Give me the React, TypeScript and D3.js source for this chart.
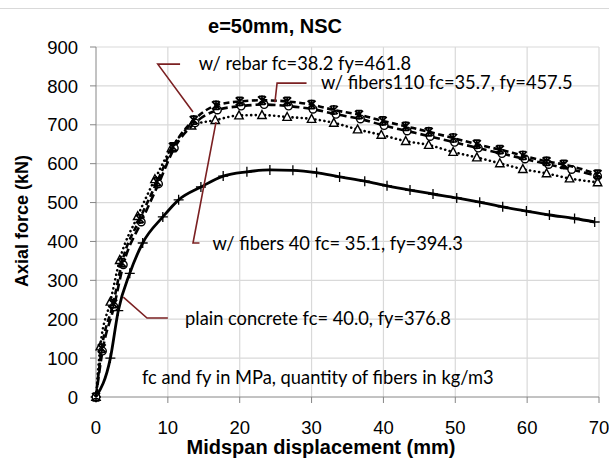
import React from "react";
import * as d3 from "d3";

// Midspan displacement (mm) vs axial force (kN), e = 50 mm, normal-strength concrete
const rebarX = [0, 0.8, 2.4, 3.6, 6.1, 8.5, 10.7, 13.6, 16.7, 20.0, 23.1, 26.6, 30.0, 33.1, 36.6, 39.9, 43.1, 46.3, 49.7, 53.0, 56.2, 59.4, 62.7, 65.1, 69.8];
const rebarY = [0, 125, 240, 345, 458, 553, 643, 712, 750, 760, 763, 760, 752, 738, 726, 710, 696, 682, 666, 650, 636, 621, 606, 598, 573];

const fib110X = [0, 0.9, 2.5, 3.8, 6.3, 8.7, 10.9, 13.8, 16.9, 20.2, 23.4, 26.8, 30.2, 33.4, 36.8, 40.1, 43.3, 46.5, 49.9, 53.2, 56.5, 59.7, 63.0, 66.2, 69.8];
const fib110Y = [0, 118, 232, 340, 450, 548, 640, 705, 738, 748, 752, 748, 740, 727, 715, 698, 684, 670, 655, 640, 626, 612, 598, 585, 568];

const fib40X = [0, 0.6, 2.0, 3.3, 5.8, 8.2, 10.5, 13.3, 16.6, 19.9, 23.1, 26.6, 30.0, 33.1, 36.4, 39.7, 43.1, 46.3, 49.7, 53.0, 56.2, 59.4, 62.7, 65.9, 69.8];
const fib40Y = [0, 130, 245, 352, 465, 560, 640, 698, 712, 724, 725, 720, 715, 705, 688, 674, 658, 648, 630, 616, 601, 586, 575, 562, 552];

const plainX = [0, 2.0, 3.1, 4.7, 6.5, 9.3, 11.5, 14.6, 17.7, 21.0, 24.2, 27.4, 30.7, 33.9, 37.4, 40.5, 43.7, 46.9, 50.2, 53.4, 56.6, 59.9, 63.1, 66.6, 69.4];
const plainY = [0, 100, 222, 318, 396, 463, 507, 540, 568, 579, 584, 583, 577, 566, 555, 543, 532, 522, 512, 501, 489, 478, 468, 459, 450];

const xTicks = [0, 10, 20, 30, 40, 50, 60, 70];
const yTicks = [0, 100, 200, 300, 400, 500, 600, 700, 800, 900];

const titleText = "e=50mm, NSC";
const xTitle = "Midspan displacement (mm)";
const yTitle = "Axial force (kN)";

// Callout labels: leader polyline in data units, label anchor in data units
const callouts = [
  { text: "w/ rebar fc=38.2 fy=461.8", pts: [[13.5, 733], [8.6, 856], [11.7, 856]], at: [14.3, 859] },
  { text: "w/ fibers110 fc=35.7, fy=457.5", pts: [[24.9, 758], [25.2, 807], [29.3, 807]], at: [31.3, 810] },
  { text: "w/ fibers 40 fc= 35.1, fy=394.3", pts: [[16.7, 707], [13.5, 396], [14.4, 396]], at: [16.2, 396] },
  { text: "plain concrete fc= 40.0, fy=376.8", pts: [[3.8, 257], [7.1, 203], [10.0, 203]], at: [12.4, 203] },
];
const noteText = "fc and fy in MPa, quantity of fibers in kg/m3";
const noteAt = [6.4, 50];

const W = 609;
const H = 459;

export default function App() {
  const x = d3.scaleLinear().domain([0, 70]).range([96, 599]);
  const y = d3.scaleLinear().domain([0, 900]).range([397, 47]);

  const line = d3
    .line<[number, number]>()
    .x((d) => x(d[0]))
    .y((d) => y(d[1]))
    .curve(d3.curveMonotoneX);

  const zip = (xs: number[], ys: number[]) => xs.map((v, i) => [v, ys[i]] as [number, number]);

  const series = [
    { key: "plain", data: zip(plainX, plainY), dash: undefined as string | undefined, cap: "butt", marker: "plus" },
    { key: "fib40", data: zip(fib40X, fib40Y), dash: "0.1 4.5", cap: "round", marker: "tri" },
    { key: "fib110", data: zip(fib110X, fib110Y), dash: "8 4", cap: "butt", marker: "circle" },
    { key: "rebar", data: zip(rebarX, rebarY), dash: "6 3.5", cap: "butt", marker: "star" },
  ];

  const marker = (kind: string, cx: number, cy: number, k: string) => {
    const s = 4;
    if (kind === "plus")
      return (
        <path
          key={k}
          d={`M${cx - 5},${cy}H${cx + 5}M${cx},${cy - 5}V${cy + 5}`}
          stroke="#000"
          strokeWidth={1.3}
          fill="none"
        />
      );
    if (kind === "circle") return <circle key={k} cx={cx} cy={cy} r={3.8} stroke="#000" strokeWidth={1.4} fill="#fff" />;
    if (kind === "tri")
      return (
        <path
          key={k}
          d={`M${cx},${cy - 4.5}L${cx + 4.2},${cy + 3.4}L${cx - 4.2},${cy + 3.4}Z`}
          stroke="#000"
          strokeWidth={1.4}
          fill="#fff"
        />
      );
    return (
      <path
        key={k}
        d={`M${cx - s},${cy - s}L${cx + s},${cy + s}M${cx - s},${cy + s}L${cx + s},${cy - s}M${cx},${cy - 5}V${cy + 5}M${cx - 3},${cy - s}H${cx + 3}M${cx - 3},${cy + s}H${cx + 3}`}
        stroke="#000"
        strokeWidth={1.7}
        fill="none"
      />
    );
  };

  const axisFont = "'Liberation Sans', Arial, sans-serif";
  const noteFont = "Lato, 'Open Sans', sans-serif";

  return (
    <svg width={W} height={H} style={{ position: "absolute", left: 0, top: 0, background: "#fff" }}>
      <rect x={0} y={0} width={W} height={H} fill="#fff" />
      <line x1={0} x2={W} y1={8.5} y2={8.5} stroke="#d9d9d9" strokeWidth={1} />

      {/* gridlines */}
      {xTicks.slice(1).map((t) => (
        <line key={"gx" + t} x1={x(t)} x2={x(t)} y1={y(900)} y2={y(0)} stroke="#d9d9d9" strokeWidth={1.2} />
      ))}
      {yTicks.slice(1).map((t) => (
        <line key={"gy" + t} x1={x(0)} x2={x(70)} y1={y(t)} y2={y(t)} stroke="#d9d9d9" strokeWidth={1.2} />
      ))}

      {/* axes */}
      <line x1={x(0)} x2={x(0)} y1={y(900)} y2={y(0)} stroke="#868686" strokeWidth={1} />
      <line x1={x(0)} x2={x(70)} y1={y(0)} y2={y(0)} stroke="#868686" strokeWidth={1} />
      {yTicks.map((t) => (
        <g key={"ty" + t}>
          <line x1={x(0) - 6} x2={x(0)} y1={y(t)} y2={y(t)} stroke="#868686" />
          <text x={78} y={y(t)} dy="0.36em" textAnchor="end" fontFamily={axisFont} fontSize={18.5} fill="#000">
            {t}
          </text>
        </g>
      ))}
      {xTicks.map((t) => (
        <g key={"tx" + t}>
          <line x1={x(t)} x2={x(t)} y1={y(0)} y2={y(0) + 6} stroke="#868686" />
          <text x={x(t)} y={434} textAnchor="middle" fontFamily={axisFont} fontSize={18.5} fill="#000">
            {t}
          </text>
        </g>
      ))}

      {/* titles */}
      <text x={275} y={33} textAnchor="middle" fontFamily={axisFont} fontWeight="bold" fontSize={20}>
        {titleText}
      </text>
      <text x={321} y={454} textAnchor="middle" fontFamily={axisFont} fontWeight="bold" fontSize={20}>
        {xTitle}
      </text>
      <text
        transform={`translate(22,221) rotate(-90)`}
        dy="0.36em"
        textAnchor="middle"
        fontFamily={axisFont}
        fontWeight="bold"
        fontSize={18}
      >
        {yTitle}
      </text>

      {/* series lines and markers */}
      {series.map((s) => (
        <g key={s.key}>
          <path
            d={line(s.data) || ""}
            fill="none"
            stroke="#000"
            strokeWidth={s.key === "plain" ? 2.8 : 2.6}
            strokeDasharray={s.dash}
            strokeLinecap={s.cap as any}
          />
          {s.data.map((d, i) => marker(s.marker, x(d[0]), y(d[1]), s.key + i))}
        </g>
      ))}

      {/* callouts */}
      {callouts.map((c) => (
        <g key={c.text}>
          <polyline
            points={c.pts.map((p) => `${x(p[0])},${y(p[1])}`).join(" ")}
            fill="none"
            stroke="#7b2022"
            strokeWidth={1.6}
          />
          <text x={x(c.at[0])} y={y(c.at[1])} dy="0.36em" fontFamily={noteFont} fontSize={18.3} fill="#000">
            {c.text}
          </text>
        </g>
      ))}
      <text x={x(noteAt[0])} y={y(noteAt[1])} dy="0.36em" fontFamily={noteFont} fontSize={18.3} fill="#000">
        {noteText}
      </text>
    </svg>
  );
}
